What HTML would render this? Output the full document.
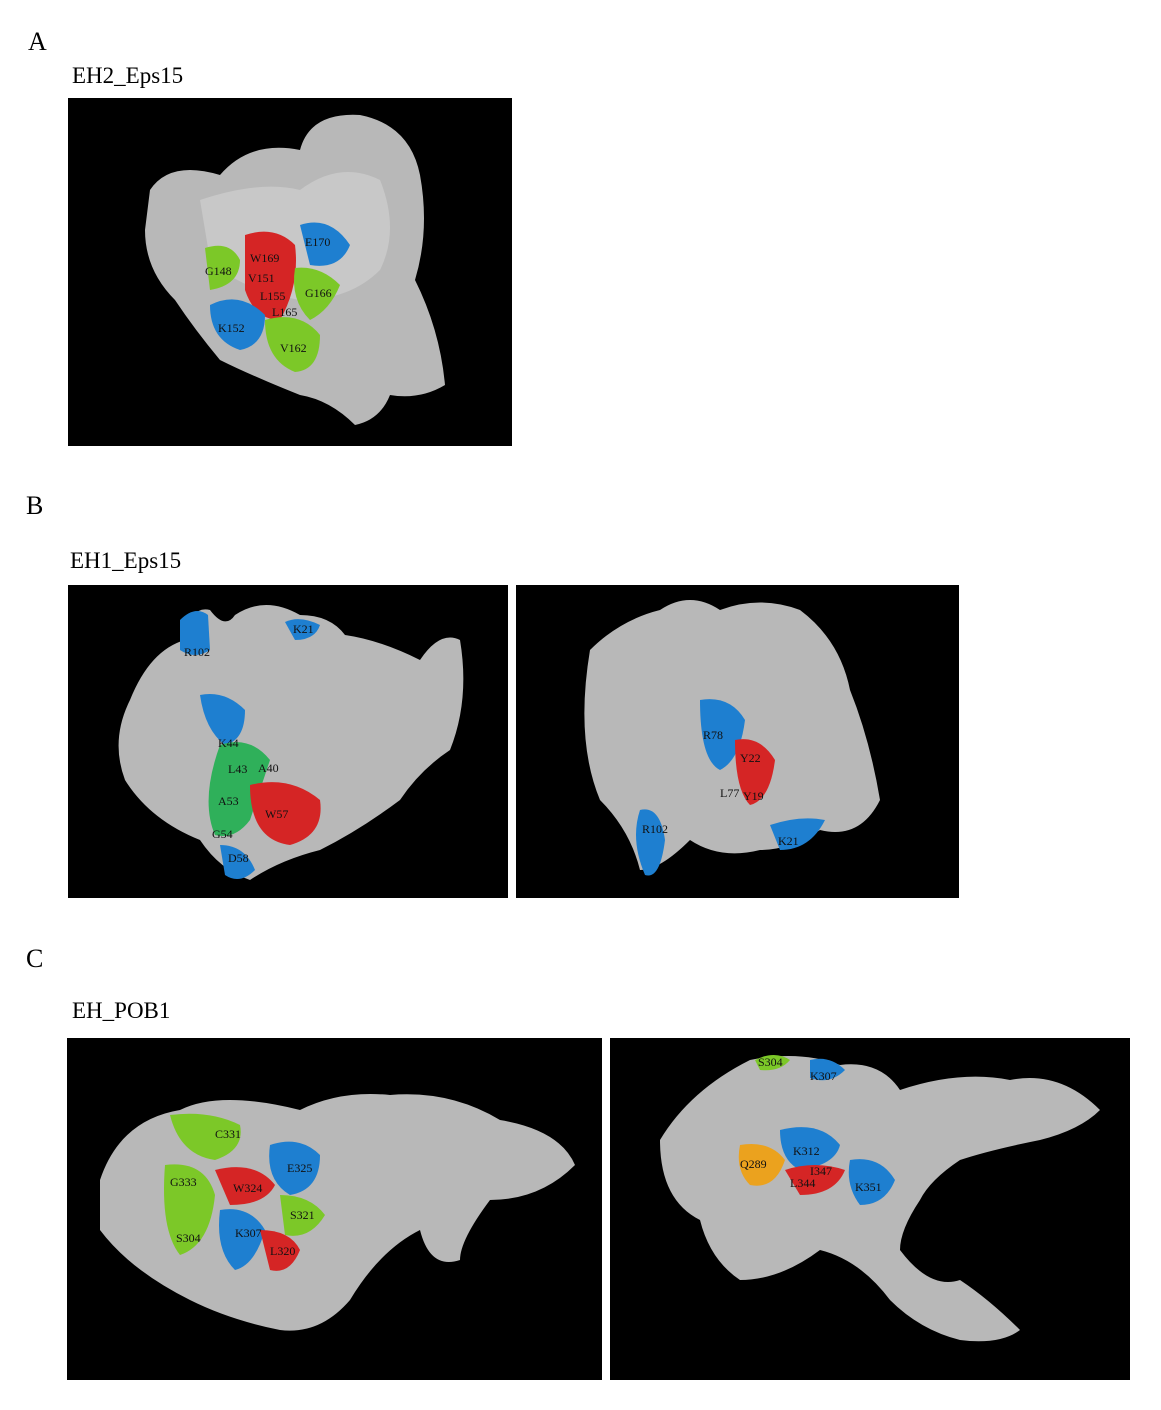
<!DOCTYPE html>
<html><head><meta charset="utf-8"><style>
body{margin:0;background:#fff;width:1161px;height:1410px;overflow:hidden;font-family:"Liberation Serif",serif}
svg{position:absolute;left:0;top:0}
</style></head><body>
<svg width="1161" height="1410" viewBox="0 0 1161 1410">
<g font-family="Liberation Serif, serif" fill="#000">
<text x="28" y="50" font-size="26">A</text>
<text x="72" y="83" font-size="23">EH2_Eps15</text>
<text x="26" y="514" font-size="26">B</text>
<text x="70" y="568" font-size="23">EH1_Eps15</text>
<text x="26" y="967" font-size="26">C</text>
<text x="72" y="1018" font-size="23">EH_POB1</text>
</g>

<!-- Panel A -->
<g>
<rect x="68" y="98" width="444" height="348" fill="#000"/>
<path d="M150,190 Q170,160 220,175 Q250,140 300,150 Q310,112 360,115 Q410,125 420,175 Q430,230 415,280 Q440,330 445,385 Q420,400 390,395 Q380,420 355,425 Q330,400 300,395 Q250,375 220,360 Q195,330 175,300 Q145,270 145,230 Z" fill="#b8b8b8"/>
<path d="M200,200 Q260,180 300,190 Q340,160 380,180 Q400,230 380,270 Q350,300 300,300 Q240,290 210,260 Z" fill="#c8c8c8"/>
<path d="M205,248 Q230,240 240,260 Q240,285 210,290 Z" fill="#7cc828"/>
<path d="M245,235 Q275,225 295,245 Q300,285 280,320 Q255,320 245,290 Z" fill="#d52525"/>
<path d="M300,225 Q330,215 350,245 Q340,270 310,265 Z" fill="#1e7fd0"/>
<path d="M295,268 Q320,265 340,285 Q330,310 310,320 Q290,300 295,268 Z" fill="#7cc828"/>
<path d="M210,305 Q240,290 265,315 Q265,345 240,350 Q210,340 210,305 Z" fill="#1e7fd0"/>
<path d="M265,320 Q300,310 320,335 Q320,370 295,372 Q265,360 265,320 Z" fill="#7cc828"/>
<g font-size="12" fill="#111">
<text x="305" y="246">E170</text><text x="250" y="262">W169</text><text x="205" y="275">G148</text>
<text x="248" y="282">V151</text><text x="260" y="300">L155</text><text x="305" y="297">G166</text>
<text x="272" y="316">L165</text><text x="218" y="332">K152</text><text x="280" y="352">V162</text>
</g></g>

<!-- Panel B left -->
<g>
<rect x="68" y="585" width="440" height="313" fill="#000"/>
<path d="M130,700 Q150,650 185,640 Q190,605 210,610 Q225,630 235,615 Q265,595 300,615 Q330,615 345,635 Q380,640 420,660 Q440,630 460,640 Q470,700 450,750 Q420,770 400,800 Q360,830 320,850 Q280,860 250,880 Q220,870 200,840 Q150,820 125,780 Q110,740 130,700 Z" fill="#b8b8b8"/>
<path d="M180,620 Q195,605 208,615 L210,650 Q195,660 180,650 Z" fill="#1e7fd0"/>
<path d="M285,622 Q300,615 320,625 Q315,640 295,640 Z" fill="#1e7fd0"/>
<path d="M200,695 Q225,690 245,710 Q245,740 225,745 Q205,730 200,695 Z" fill="#1e7fd0"/>
<path d="M220,745 Q250,735 270,760 Q260,790 250,820 Q235,840 215,835 Q200,800 220,745 Z" fill="#2fb05a"/>
<path d="M250,785 Q290,775 320,800 Q325,835 290,845 Q250,840 250,785 Z" fill="#d52525"/>
<path d="M220,845 Q245,845 255,870 Q240,885 225,875 Z" fill="#1e7fd0"/>
<g font-size="12" fill="#111">
<text x="293" y="633">K21</text><text x="184" y="656">R102</text><text x="218" y="747">K44</text>
<text x="228" y="773">L43</text><text x="258" y="772">A40</text><text x="218" y="805">A53</text>
<text x="265" y="818">W57</text><text x="212" y="838">G54</text><text x="228" y="862">D58</text>
</g></g>

<!-- Panel B right -->
<g>
<rect x="516" y="585" width="443" height="313" fill="#000"/>
<path d="M590,650 Q620,620 660,610 Q690,590 720,610 Q760,595 800,610 Q840,640 850,690 Q870,740 880,800 Q860,840 820,830 Q790,850 760,850 Q720,860 690,840 Q660,870 640,870 Q630,830 600,800 Q575,740 590,650 Z" fill="#b8b8b8"/>
<path d="M700,700 Q730,695 745,720 Q740,760 720,770 Q700,760 700,700 Z" fill="#1e7fd0"/>
<path d="M735,740 Q760,735 775,760 Q770,800 750,805 Q735,790 735,740 Z" fill="#d52525"/>
<path d="M640,810 Q660,805 665,840 Q660,880 645,875 Q630,840 640,810 Z" fill="#1e7fd0"/>
<path d="M770,825 Q800,815 825,820 Q810,850 780,850 Z" fill="#1e7fd0"/>
<g font-size="12" fill="#111">
<text x="703" y="739">R78</text><text x="740" y="762">Y22</text><text x="720" y="797">L77</text>
<text x="743" y="800">Y19</text><text x="642" y="833">R102</text><text x="778" y="845">K21</text>
</g></g>

<!-- Panel C left -->
<g>
<rect x="67" y="1038" width="535" height="342" fill="#000"/>
<path d="M100,1180 Q120,1120 180,1110 Q220,1090 300,1110 Q340,1090 390,1095 Q450,1090 500,1120 Q560,1130 575,1165 Q540,1200 490,1200 Q460,1240 460,1260 Q430,1270 420,1230 Q380,1250 350,1300 Q320,1335 280,1330 Q230,1320 190,1300 Q130,1270 100,1230 Z" fill="#b8b8b8"/>
<path d="M170,1115 Q210,1110 240,1125 Q245,1150 215,1160 Q180,1155 170,1115 Z" fill="#7cc828"/>
<path d="M165,1165 Q205,1160 215,1195 Q210,1245 180,1255 Q160,1230 165,1165 Z" fill="#7cc828"/>
<path d="M270,1145 Q300,1135 320,1155 Q320,1190 290,1195 Q265,1180 270,1145 Z" fill="#1e7fd0"/>
<path d="M215,1170 Q255,1160 275,1185 Q265,1205 230,1205 Z" fill="#d52525"/>
<path d="M280,1195 Q310,1195 325,1215 Q310,1240 285,1235 Z" fill="#7cc828"/>
<path d="M220,1210 Q250,1205 265,1230 Q255,1265 235,1270 Q215,1250 220,1210 Z" fill="#1e7fd0"/>
<path d="M260,1230 Q290,1230 300,1250 Q290,1275 270,1270 Z" fill="#d52525"/>
<g font-size="12" fill="#111">
<text x="215" y="1138">C331</text><text x="287" y="1172">E325</text><text x="170" y="1186">G333</text>
<text x="233" y="1192">W324</text><text x="290" y="1219">S321</text><text x="176" y="1242">S304</text>
<text x="235" y="1237">K307</text><text x="270" y="1255">L320</text>
</g></g>

<!-- Panel C right -->
<g>
<rect x="610" y="1038" width="520" height="342" fill="#000"/>
<path d="M660,1140 Q690,1090 750,1060 Q800,1050 840,1065 Q880,1060 900,1090 Q960,1070 1010,1080 Q1060,1070 1100,1110 Q1080,1130 1040,1140 Q990,1150 960,1160 Q930,1180 920,1200 Q900,1230 900,1250 Q930,1290 960,1280 Q990,1300 1020,1330 Q1000,1345 960,1340 Q920,1330 890,1300 Q860,1260 820,1250 Q780,1280 740,1280 Q710,1260 700,1220 Q660,1200 660,1140 Z" fill="#b8b8b8"/>
<path d="M755,1060 Q775,1050 790,1060 Q780,1072 760,1070 Z" fill="#7cc828"/>
<path d="M810,1060 Q830,1055 845,1070 Q830,1085 810,1078 Z" fill="#1e7fd0"/>
<path d="M740,1145 Q770,1140 785,1160 Q775,1190 750,1185 Q735,1170 740,1145 Z" fill="#eba21e"/>
<path d="M780,1130 Q820,1120 840,1145 Q835,1165 800,1170 Q780,1160 780,1130 Z" fill="#1e7fd0"/>
<path d="M785,1170 Q815,1160 845,1170 Q835,1195 800,1195 Z" fill="#d52525"/>
<path d="M850,1160 Q880,1155 895,1180 Q885,1205 860,1205 Q845,1185 850,1160 Z" fill="#1e7fd0"/>
<g font-size="12" fill="#111">
<text x="758" y="1066">S304</text><text x="810" y="1080">K307</text><text x="793" y="1155">K312</text>
<text x="740" y="1168">Q289</text><text x="810" y="1175">I347</text><text x="790" y="1187">L344</text>
<text x="855" y="1191">K351</text>
</g></g>
</svg>
</body></html>
